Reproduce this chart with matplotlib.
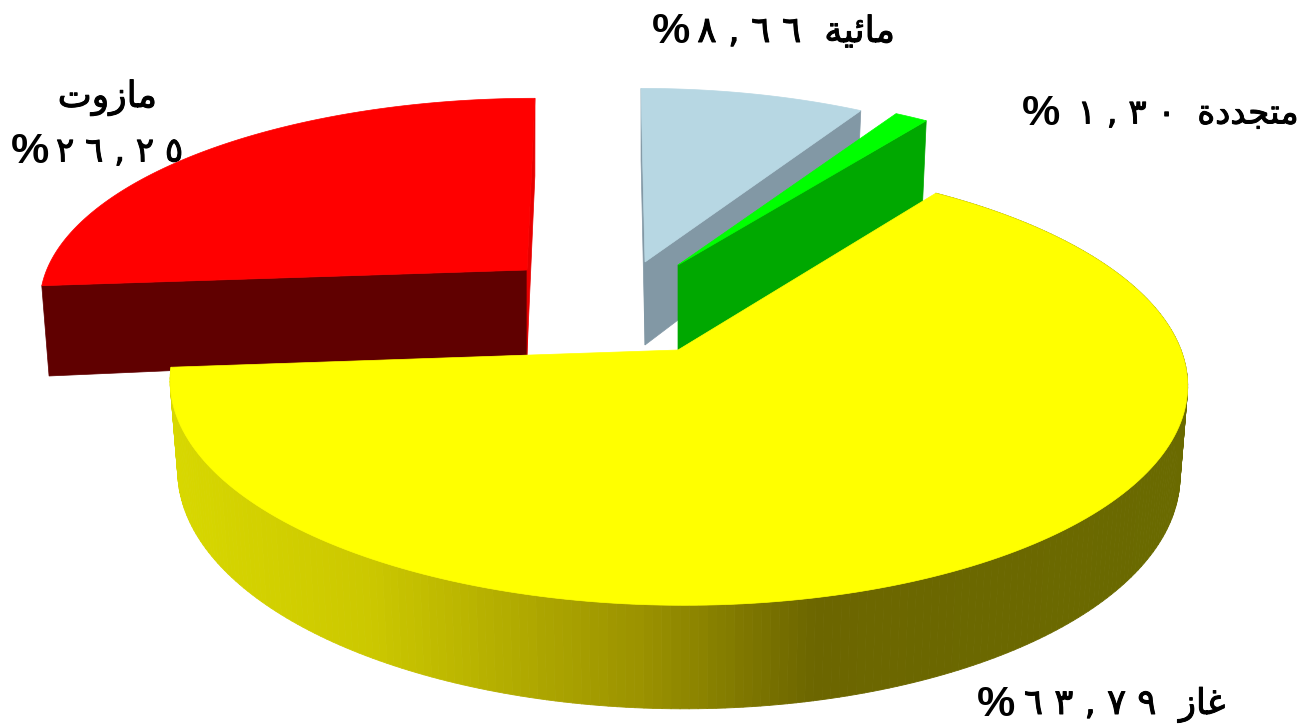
import numpy as np
import matplotlib
matplotlib.use('Agg')
import matplotlib.pyplot as plt
import matplotlib.patheffects as pe
from matplotlib.collections import PolyCollection
from matplotlib.colors import LinearSegmentedColormap
from matplotlib.patches import Polygon

# shares in percent, clockwise from 12 o'clock
names = ['hydro', 'renewable', 'gas', 'mazut']
shares = [8.66, 1.30, 63.79, 26.25]

# Arabic words in presentation forms and visual order, matplotlib does no shaping
word_hydro = '\uFE94\uFEF4\uFE8B\uFE8E\uFEE3'
word_renew = '\uFE93\uFEA9\uFEAA\uFEA0\uFE98\uFEE3'
word_gas = '\uFEAF\uFE8E\uFECF'
word_mazut = '\uFE95\uFEED\uFEAF\uFE8E\uFEE3'
num_hydro = '\u0668 , \u0666 \u0666'
num_renew = '\u0661 , \u0663 \u0660'
num_gas = '\u0666 \u0663 , \u0667 \u0669'
num_mazut = '\u0662 \u0666 , \u0662 \u0665'

RX, RY, PERSP = 503.0, 217.0, 0.15
BOTTOM_SHRINK = 0.985

# apex x/y, x scale, y scale, shear, thickness, outer wall factor, top colour
layout = {
    'hydro': (645, 262, 0.95, 0.92, -4, 83, 1.0, '#B7D7E3'),
    'renewable': (678, 265, 0.945, 0.92, 0, 85, 1.1, '#00FF00'),
    'gas': (678, 350, 1.0, 1.0, -6, 88, 1.0, '#FFFF00'),
    'mazut': (527, 270, 0.955, 0.91, 8, 85, 1.05, '#FF0000'),
}
# colour of the cut face at the start and end of each slice
cut_faces = {
    'hydro': ('#8298A5', '#8298A5'),
    'renewable': (None, '#00A800'),
    'gas': (None, None),
    'mazut': ('#600000', '#E80000'),
}

rim_cmap = LinearSegmentedColormap.from_list('rim', [
    (0.0, '#D8D800'), (0.2, '#CCC800'), (0.33, '#B4AE00'),
    (0.47, '#9B9200'), (0.64, '#6C6600'), (1.0, '#6A6A00'),
])


def project(name, angle):
    ax_, ay_, sx, sy, shear, *_ = layout[name]
    u, v = np.sin(angle), np.cos(angle)
    d = 1 + PERSP * v
    return ax_ + sx * RX * u / d + shear * v, ay_ - sy * RY * v / d


def drop(name, angle):
    # height of the side wall, nearer parts look taller
    return layout[name][5] * layout[name][6] / (1 + PERSP * np.cos(angle))


def draw_cut(ax, name, angle, color):
    x, y = project(name, angle)
    ax_, ay_ = layout[name][:2]
    h = layout[name][5]
    xb = ax_ + (x - ax_) * BOTTOM_SHRINK
    pts = [(ax_, ay_), (x, y), (xb, y + drop(name, angle)), (ax_, ay_ + h)]
    ax.add_patch(Polygon(pts, closed=True, fc=color, ec=color, lw=0.5))


def draw_rim(ax, name, a0, a1):
    angles = np.linspace(a0, a1, 260)
    x, y = project(name, angles)
    ax_ = layout[name][0]
    xb = ax_ + (x - ax_) * BOTTOM_SHRINK
    yb = y + drop(name, angles)
    segs, cols = [], []
    for i in range(len(angles) - 1):
        segs.append([(x[i], y[i]), (x[i + 1], y[i + 1]), (xb[i + 1], yb[i + 1]), (xb[i], yb[i])])
        cols.append(rim_cmap((x[i] - 165) / 1022))
    ax.add_collection(PolyCollection(segs, facecolors=cols, edgecolors=cols, linewidths=0.6))


def draw_top(ax, name, a0, a1):
    angles = np.linspace(a0, a1, 200)
    x, y = project(name, angles)
    ax_, ay_ = layout[name][:2]
    pts = np.column_stack([np.r_[ax_, x], np.r_[ay_, y]])
    color = layout[name][7]
    ax.add_patch(Polygon(pts, closed=True, fc=color, ec=color, lw=0.5))


def draw_body(ax, x_right, y, body, size):
    ax.text(x_right, y, body, family='DejaVu Sans', fontsize=size, ha='right', va='center',
            path_effects=[pe.withStroke(linewidth=0.7, foreground='black')])


def draw_label(ax, x_pct, x_right, y, body, size=26):
    ax.text(x_pct, y, '%', family='Liberation Sans', fontsize=31, fontweight='bold',
            ha='center', va='center')
    draw_body(ax, x_right, y, body, size)


fig = plt.figure(figsize=(13.13, 7.27), dpi=100)
ax = fig.add_axes([0, 0, 1, 1])
ax.set_xlim(0, 1313)
ax.set_ylim(727, 0)
ax.axis('off')

edges = np.r_[0, np.cumsum(shares)] / sum(shares) * 2 * np.pi
spans = {n: (edges[i], edges[i + 1]) for i, n in enumerate(names)}

# back slices first, the gas slice goes over everything
for name in ['hydro', 'renewable', 'mazut', 'gas']:
    a0, a1 = spans[name]
    if name == 'gas':
        draw_rim(ax, name, a0, a1)
    start_col, end_col = cut_faces[name]
    if start_col:
        draw_cut(ax, name, a0, start_col)
    if end_col:
        draw_cut(ax, name, a1, end_col)
    draw_top(ax, name, a0, a1)

draw_label(ax, 671, 895, 32, num_hydro + '  ' + word_hydro)
draw_label(ax, 1041, 1298, 114, num_renew + '  ' + word_renew, size=24.5)
draw_body(ax, 157, 98, word_mazut, 26)
draw_label(ax, 30, 183, 152, num_mazut, size=24.5)
draw_label(ax, 996, 1225, 705, num_gas + '  ' + word_gas, size=25.5)

fig.savefig('out.png', dpi=100, facecolor='white')
